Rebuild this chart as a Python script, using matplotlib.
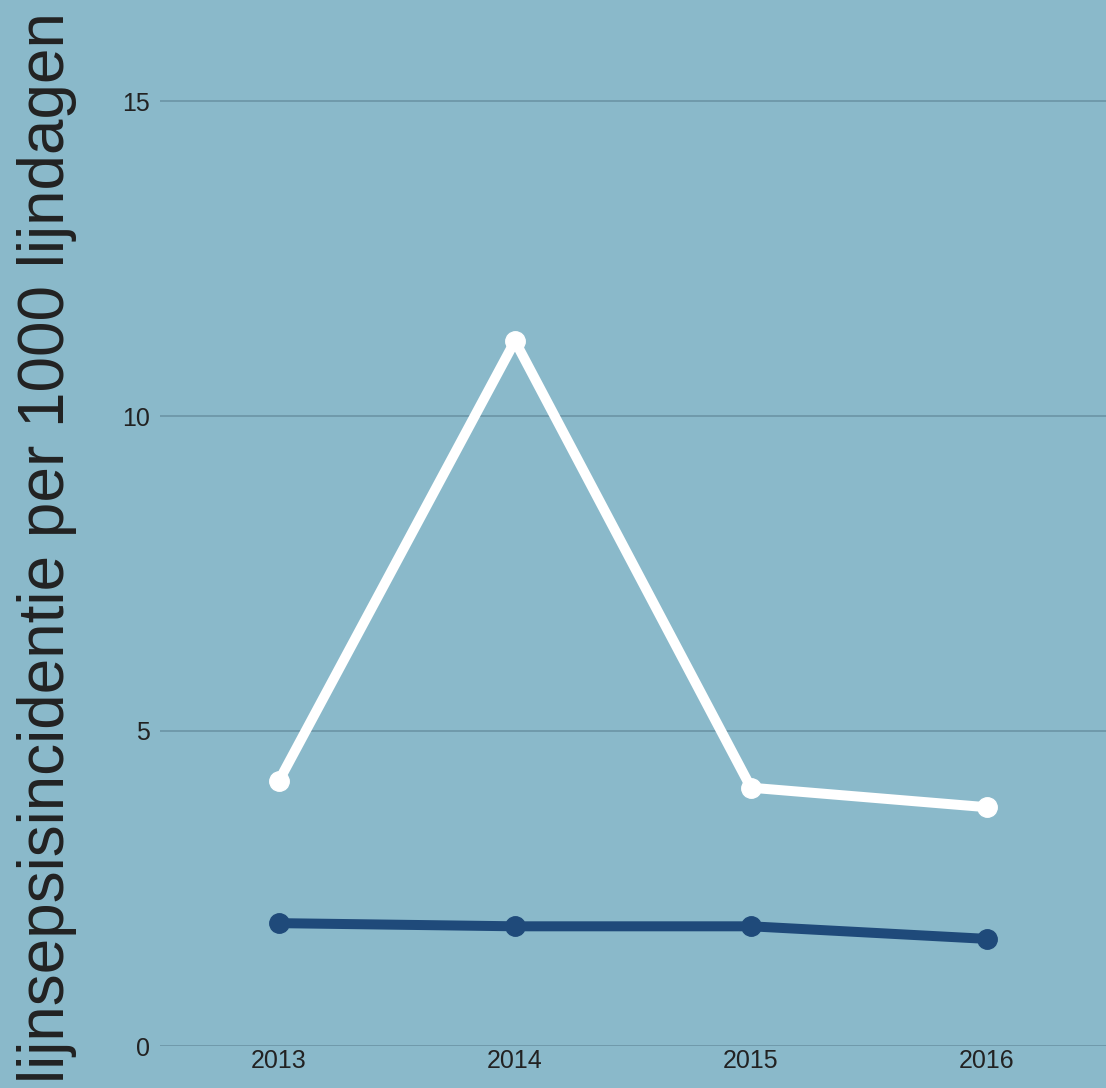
import matplotlib
matplotlib.use("Agg")
import matplotlib.pyplot as plt

years = ["2013", "2014", "2015", "2016"]
series_white = [4.21, 11.19, 4.10, 3.79]
series_dark = [1.95, 1.90, 1.90, 1.70]
yticks = [0, 5, 10, 15]
ylabel = "lijnsepsisincidentie per 1000 lijndagen"

plt.rcParams['font.family'] = ['Liberation Sans', 'DejaVu Sans']
bg = "#8ab9ca"
fig = plt.figure(figsize=(11.06, 10.88), dpi=100, facecolor=bg)
ax = fig.add_axes([160/1106, 42/1088, 1 - 160/1106, 1 - 42/1088])
ax.set_facecolor(bg)

x = list(range(len(years)))
ax.plot(x, series_white, color="white", lw=7.2, marker="o", ms=14, zorder=3)
ax.plot(x, series_dark, color="#1f4a7a", lw=7.2, marker="o", ms=14, zorder=3)

ax.set_xlim(-0.504, 3.504)
ax.set_ylim(0, 1046/63)
ax.set_yticks(yticks)
ax.set_xticks(x)
ax.set_xticklabels(years)
ax.tick_params(axis='both', length=0, labelsize=18, colors="#222222")
ax.tick_params(axis='y', pad=7)
ax.tick_params(axis='x', pad=2)
ax.grid(axis='y', color="#6e97a8", lw=1.3)
ax.set_axisbelow(True)
for s in ax.spines.values():
    s.set_visible(False)

fig.text(47/1106, 0.497, ylabel, rotation=90, ha='center', va='center', fontsize=46, color="#222222")

fig.savefig("out.png", dpi=100, facecolor=bg)
